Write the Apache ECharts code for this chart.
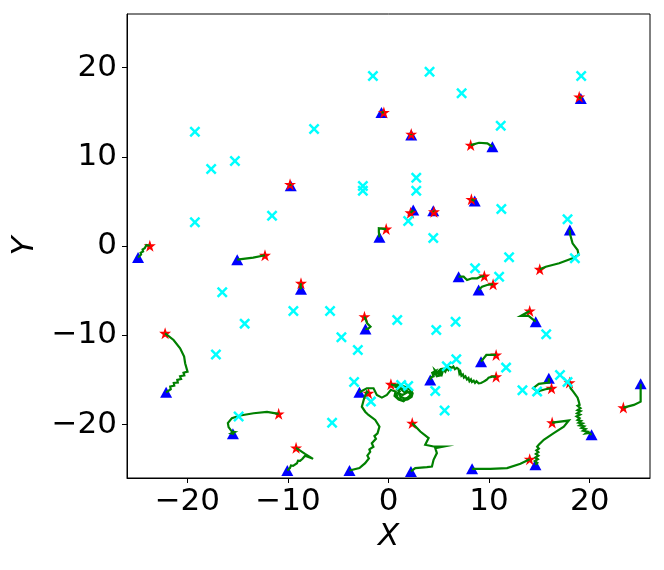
<!DOCTYPE html>
<html>
<head>
<meta charset="utf-8">
<script src="https://cdn.jsdelivr.net/npm/echarts@6/dist/echarts.min.js"></script>
<style>
html,body{margin:0;padding:0;background:#fff;}
#chart{width:664px;height:570px;}
</style>
</head>
<body>
<div id="chart"></div>
<script>
// Cyan "x" markers
const crossX = [-19.25,-17.63,-15.27,-19.25,-11.58,-7.40,-1.55,4.08,7.27,19.16,11.16,-2.55,-2.55,2.76,2.76,1.96,4.45,11.22,17.80,18.53,11.99,8.61,11.00,-16.53,-9.46,-5.81,-14.30,-17.16,-14.90,-5.61,0.87,6.67,4.75,-4.68,-3.05,15.68,6.74,11.69,5.80,-3.42,1.26,1.96,4.65,-1.75,5.58,13.32,14.78,17.05,17.80];
const crossY = [12.80,8.62,9.52,2.65,3.39,13.10,19.04,19.52,17.13,19.04,13.47,6.72,6.19,7.65,6.19,2.80,0.90,4.14,2.99,-1.38,-1.27,-2.50,-3.44,-5.18,-7.28,-7.28,-8.70,-12.17,-19.12,-19.82,-8.29,-8.48,-9.41,-10.22,-11.65,-9.89,-12.69,-13.63,-13.47,-15.23,-15.57,-15.68,-16.24,-17.44,-18.44,-16.16,-16.32,-14.45,-15.23];

// Trajectories: first point = red star, last point = blue triangle
const tracks = [
  [[-23.73,0.03],[-24.07,0.11],[-24.24,-0.26],[-24.45,-0.40],[-24.40,-0.60],[-24.65,-0.75],[-24.60,-0.95],[-24.90,-1.28]],
  [[-12.28,-1.04],[-13.45,-1.31],[-15.04,-1.53]],
  [[-9.79,6.91],[-9.72,6.75]],
  [[-8.70,-4.18],[-8.75,-4.50],[-8.70,-4.85]],
  [[-0.46,14.97],[-0.70,14.97]],
  [[2.26,12.54],[2.26,12.43]],
  [[8.17,11.31],[9.00,11.57],[9.83,11.50],[10.33,11.12]],
  [[18.96,16.72],[19.12,16.54]],
  [[8.24,5.23],[8.57,5.04]],
  [[2.19,3.73],[2.35,3.90],[2.46,4.03]],
  [[4.52,3.84],[4.45,3.95]],
  [[-0.23,1.90],[-0.96,1.98],[-0.96,1.57],[-0.90,0.97]],
  [[15.04,-2.61],[15.64,-2.32],[16.97,-1.94],[18.30,-1.38],[18.90,-1.01],[18.80,-0.45],[18.30,0.30],[18.03,1.42],[18.03,1.79]],
  [[9.53,-3.36],[9.13,-3.44],[8.81,-3.62],[8.31,-3.62],[7.81,-3.81],[7.47,-3.44],[6.97,-3.44]],
  [[10.40,-4.29],[9.80,-4.37],[9.30,-4.56],[8.96,-4.93]],
  [[-2.39,-7.92],[-2.12,-8.66],[-1.79,-9.04],[-2.05,-9.30],[-2.29,-9.29]],
  [[14.04,-7.28],[13.15,-7.84],[13.92,-7.84],[14.64,-8.48]],
  [[10.70,-12.21],[9.73,-12.21],[9.20,-12.96]],
  [[10.70,-14.64],[10.30,-14.64],[9.95,-14.75],[9.80,-14.95],[9.60,-15.10],[9.46,-15.20],[9.20,-15.35],[8.96,-15.38],[8.75,-15.15],[8.60,-15.35],[8.47,-15.10],[8.30,-15.25],[8.20,-14.95],[8.05,-15.15],[7.95,-14.80],[7.80,-14.95],[7.65,-14.60],[7.50,-14.75],[7.40,-14.40],[7.25,-14.55],[7.15,-14.10],[7.05,-14.30],[6.97,-13.80],[6.80,-13.65],[6.60,-13.80],[6.45,-13.50],[6.31,-13.65],[6.10,-13.55],[5.95,-13.90],[5.80,-13.70],[5.65,-14.10],[5.45,-13.85],[5.30,-14.40],[5.10,-14.00],[5.55,-13.75],[5.20,-13.80],[4.90,-14.10],[5.20,-14.50],[4.80,-14.60],[4.60,-13.90],[4.95,-14.30],[4.50,-14.40],[4.70,-14.00],[4.35,-14.20],[4.48,-14.60],[4.25,-14.70],[4.15,-15.01]],
  [[-1.99,-16.49],[-2.16,-16.32],[-2.42,-17.06],[-2.65,-18.01],[-2.32,-18.57],[-1.99,-18.94],[-1.32,-19.49],[-0.90,-20.24],[-1.09,-20.99],[-1.40,-21.30],[-1.25,-21.60],[-1.66,-22.11],[-1.50,-22.50],[-1.90,-22.80],[-1.82,-23.07],[-2.10,-23.50],[-1.95,-23.80],[-2.32,-24.34],[-2.55,-24.55],[-2.89,-24.89],[-3.88,-25.16]],
  [[0.24,-15.49],[0.50,-15.60],[0.90,-15.50],[1.30,-15.70],[1.00,-16.00],[0.70,-15.80],[1.20,-15.60],[1.70,-15.80],[2.10,-16.10],[2.40,-16.50],[2.30,-16.90],[1.90,-17.20],[1.40,-17.30],[0.90,-17.00],[0.80,-16.60],[1.10,-16.30],[0.90,-16.10],[1.30,-16.00],[1.80,-16.20],[2.20,-16.60],[2.00,-17.00],[1.60,-17.10],[1.20,-16.90],[1.00,-16.50],[1.40,-16.70],[1.70,-16.50],[1.50,-16.30],[1.90,-16.40],[2.30,-16.30],[2.10,-16.80],[1.50,-17.40],[1.00,-17.20],[0.60,-16.80],[0.70,-16.30],[0.40,-16.20],[0.24,-16.13],[-0.16,-16.69],[-0.66,-16.99],[-1.16,-16.69],[-1.49,-15.94],[-2.15,-15.94],[-2.89,-16.38]],
  [[2.36,-19.85],[3.16,-20.79],[3.99,-21.53],[3.65,-22.28],[4.48,-22.47],[5.48,-22.47],[4.65,-22.66],[4.81,-23.21],[4.48,-23.96],[4.32,-24.71],[3.82,-24.78],[2.66,-24.89],[2.23,-25.27]],
  [[-9.19,-22.62],[-8.30,-23.29],[-7.50,-23.85],[-8.30,-23.51],[-8.55,-23.85],[-8.79,-24.08],[-9.00,-24.05],[-9.10,-24.35],[-9.49,-24.64],[-9.70,-24.60],[-9.80,-24.90],[-10.06,-25.16]],
  [[-22.21,-9.78],[-21.37,-10.53],[-20.72,-11.46],[-20.32,-12.40],[-20.22,-13.14],[-19.98,-14.08],[-20.38,-14.20],[-20.30,-14.50],[-20.72,-14.60],[-20.62,-14.90],[-21.00,-15.00],[-20.95,-15.30],[-21.35,-15.35],[-21.30,-15.65],[-21.70,-15.75],[-21.65,-16.05],[-22.11,-16.40]],
  [[-10.92,-18.81],[-12.08,-18.59],[-13.41,-18.74],[-14.74,-19.00],[-15.57,-19.29],[-15.97,-19.85],[-15.90,-20.30],[-15.57,-20.80],[-15.30,-20.85],[-15.60,-21.00],[-15.35,-21.05],[-15.47,-21.05]],
  [[16.27,-19.79],[17.93,-19.56],[17.43,-20.24],[16.43,-20.97],[15.44,-21.72],[14.94,-22.28],[14.78,-22.50],[14.95,-22.70],[14.70,-22.90],[14.90,-23.10],[14.65,-23.30],[14.90,-23.50],[14.60,-23.70],[14.85,-23.90],[14.55,-24.10],[14.80,-24.30],[14.61,-24.52]],
  [[14.04,-23.89],[13.12,-24.41],[11.79,-24.89],[10.13,-24.97],[8.31,-24.97]],
  [[18.00,-15.31],[18.10,-15.94],[18.35,-16.30],[18.60,-16.69],[18.80,-17.00],[18.92,-17.44],[19.00,-17.80],[18.80,-17.90],[19.09,-18.18],[18.80,-18.40],[19.10,-18.50],[18.75,-18.75],[19.05,-18.90],[18.70,-19.10],[19.00,-19.30],[18.80,-19.50],[19.15,-19.60],[18.90,-19.80],[19.30,-19.90],[19.00,-20.10],[19.45,-20.20],[19.20,-20.40],[19.60,-20.50],[19.35,-20.70],[19.80,-20.80],[19.60,-21.00],[19.95,-20.95],[20.19,-21.16]],
  [[23.35,-18.11],[24.40,-17.81],[25.07,-17.44],[25.07,-15.75],[25.07,-15.45]],
  [[16.21,-15.94],[15.61,-16.05],[14.78,-16.32],[14.38,-15.94],[14.94,-15.45],[15.94,-15.31],[15.94,-14.82]]
];

const tickValues = [-20, -10, 0, 10, 20];
const axisMin = -26, axisMax = 26;

const starPts = tracks.map(t => t[0]);
const triPts = tracks.map(t => t[t.length - 1]);
const crossPts = crossX.map((x, i) => [x, crossY[i]]);

const FONT = 'DejaVu Sans';
const STAR = 'path://M50,0L61.2,34.5L97.6,34.5L68.2,55.9L79.4,90.5L50,69.1L20.6,90.5L31.8,55.9L2.4,34.5L38.8,34.5Z';
const XMARK = 'path://M0,1.6L1.6,0L5,3.4L8.4,0L10,1.6L6.6,5L10,8.4L8.4,10L5,6.6L1.6,10L0,8.4L3.4,5Z';

const chart = echarts.init(document.getElementById('chart'), null, {renderer: 'canvas'});
chart.setOption({
  animation: false,
  backgroundColor: '#fff',
  grid: {left: 127, right: 14, top: 14, bottom: 92, show: true, borderColor: '#000', borderWidth: 1, backgroundColor: 'transparent'},
  xAxis: {
    type: 'value', min: axisMin, max: axisMax,
    name: 'X', nameLocation: 'middle', nameGap: 40,
    nameTextStyle: {fontFamily: FONT, fontSize: 31, fontStyle: 'italic', color: '#000'},
    axisLine: {show: true, onZero: false, lineStyle: {color: '#000', width: 1}},
    axisTick: {show: true, length: 5, inside: false, customValues: tickValues, lineStyle: {color: '#000'}},
    axisLabel: {customValues: tickValues, margin: 8, fontFamily: FONT, fontSize: 31, color: '#000',
      formatter: v => (v < 0 ? '\u2212' + Math.abs(v) : String(v))},
    splitLine: {show: false}
  },
  yAxis: {
    type: 'value', min: axisMin, max: axisMax,
    name: 'Y', nameLocation: 'middle', nameGap: 83, nameRotate: 90,
    nameTextStyle: {fontFamily: FONT, fontSize: 31, fontStyle: 'italic', color: '#000'},
    axisLine: {show: true, onZero: false, lineStyle: {color: '#000', width: 1}},
    axisTick: {show: true, length: 5, inside: false, customValues: tickValues, lineStyle: {color: '#000'}},
    axisLabel: {customValues: tickValues, margin: 10, fontFamily: FONT, fontSize: 31, color: '#000',
      formatter: v => (v < 0 ? '\u2212' + Math.abs(v) : String(v))},
    splitLine: {show: false}
  },
  series: [
    {
      type: 'scatter', name: 'cross', data: crossPts, symbol: XMARK, symbolSize: 11,
      itemStyle: {color: '#00ffff', opacity: 1}, z: 5, silent: true
    },
    {
      type: 'scatter', name: 'end', data: triPts, symbol: 'triangle', symbolSize: [12, 11],
      itemStyle: {color: '#0000ff', opacity: 1}, z: 2, silent: true
    },
    {
      type: 'scatter', name: 'start', data: starPts, symbol: STAR, symbolSize: 12,
      itemStyle: {color: '#ff0000', opacity: 1}, z: 3, silent: true
    },
    {
      type: 'lines', coordinateSystem: 'cartesian2d', polyline: true,
      data: tracks.map(t => ({coords: t})),
      lineStyle: {color: '#008000', width: 2.2, opacity: 1, curveness: 0}, z: 4, silent: true
    }
  ]
});
</script>
</body>
</html>
